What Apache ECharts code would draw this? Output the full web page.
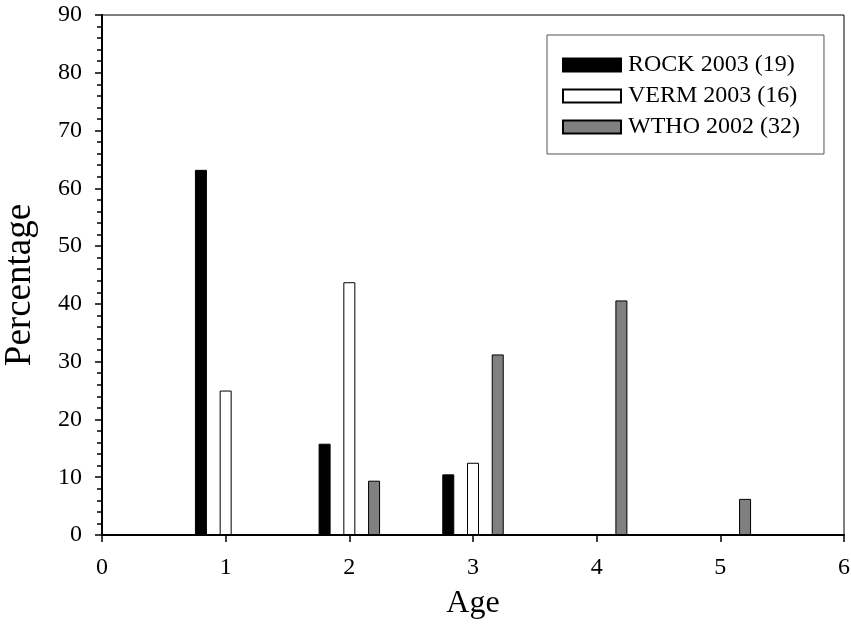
<!DOCTYPE html>
<html><head><meta charset="utf-8">
<script src="https://cdn.jsdelivr.net/npm/echarts@6/dist/echarts.min.js"></script>
<style>html,body{margin:0;padding:0;background:#fff}#c{width:851px;height:627px}</style>
</head><body><div id="c"></div>
<script>
const seriesNames = ['ROCK 2003 (19)', 'VERM 2003 (16)', 'WTHO 2002 (32)'];
const rockX = [0.8, 1.8, 2.8];
const rockY = [63.2, 15.8, 10.5];
const vermX = [1, 2, 3];
const vermY = [25, 43.75, 12.5];
const wthoX = [2.2, 3.2, 4.2, 5.2];
const wthoY = [9.4, 31.25, 40.6, 6.25];
const xTicks = [0, 1, 2, 3, 4, 5, 6];
const yTicks = [0, 10, 20, 30, 40, 50, 60, 70, 80, 90];

const font = 'Liberation Serif, Times New Roman, serif';
const pairs = (xs, ys) => xs.map((x, i) => [x, ys[i]]);
const chart = echarts.init(document.getElementById('c'), null, {renderer: 'canvas'});
const barBase = {type: 'bar', barWidth: 12, barGap: '-100%', animation: false};
chart.setOption({
  animation: false,
  grid: {left: 102, top: 15, right: 7, bottom: 92, show: true, borderColor: '#000', borderWidth: 1,
    containLabel: false, outerBoundsMode: 'none'},
  legend: {
    orient: 'vertical', left: 547, top: 35,
    padding: [18, 24, 15, 15], itemGap: 7,
    itemWidth: 58, itemHeight: 13, icon: 'rect',
    borderColor: '#555', borderWidth: 1,
    textStyle: {fontFamily: font, fontSize: 24, color: '#000', padding: [0, 0, 0, 2]},
    data: seriesNames
  },
  xAxis: {
    type: 'value', min: xTicks[0], max: xTicks[xTicks.length - 1], interval: 1,
    name: 'Age', nameLocation: 'middle', nameGap: 53,
    nameTextStyle: {fontFamily: font, fontSize: 32, color: '#000'},
    axisLine: {lineStyle: {color: '#000', width: 2}},
    axisTick: {show: true, inside: false, length: 7, lineStyle: {color: '#000', width: 1.5}},
    axisLabel: {fontFamily: font, fontSize: 24, color: '#000', margin: 21},
    splitLine: {show: false}
  },
  yAxis: {
    type: 'value', min: yTicks[0], max: yTicks[yTicks.length - 1], interval: 10,
    name: 'Percentage', nameLocation: 'middle', nameGap: 63,
    nameTextStyle: {fontFamily: font, fontSize: 37, color: '#000', padding: [0, 20, 0, 0]},
    axisLine: {lineStyle: {color: '#000', width: 2}},
    axisTick: {show: true, inside: false, length: 7, lineStyle: {color: '#000', width: 1.5}},
    minorTick: {show: true, splitNumber: 5, length: 5, lineStyle: {color: '#000', width: 1.5}},
    axisLabel: {fontFamily: font, fontSize: 24, color: '#000', margin: 20},
    splitLine: {show: false}
  },
  series: [
    Object.assign({}, barBase, {name: seriesNames[0], data: pairs(rockX, rockY),
      itemStyle: {color: '#000', borderColor: '#000', borderWidth: 1}}),
    Object.assign({}, barBase, {name: seriesNames[1], data: pairs(vermX, vermY),
      itemStyle: {color: '#fff', borderColor: '#000', borderWidth: 1}}),
    Object.assign({}, barBase, {name: seriesNames[2], data: pairs(wthoX, wthoY),
      itemStyle: {color: '#808080', borderColor: '#000', borderWidth: 1}})
  ]
});
</script></body></html>
